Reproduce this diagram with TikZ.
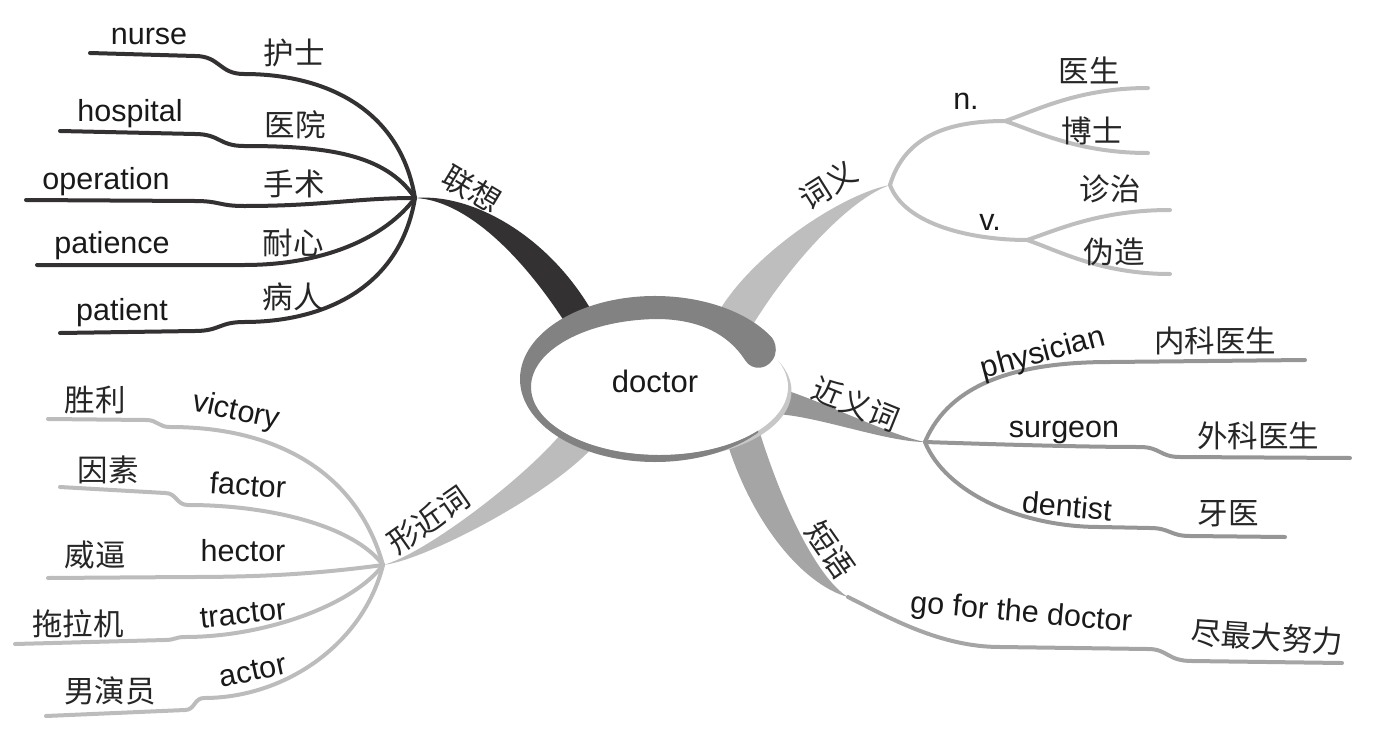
\documentclass[tikz,border=0pt]{standalone}
\usepackage{fontspec}
\setmainfont{Liberation Sans}
\newfontfamily\cjk{Noto Sans CJK SC}
\usetikzlibrary{calc}

\definecolor{assocgray}{RGB}{52,49,50}
\definecolor{meangray}{RGB}{190,190,190}
\definecolor{syngray}{RGB}{150,150,150}
\definecolor{phrasegray}{RGB}{165,165,165}
\definecolor{formgray}{RGB}{188,188,188}
\definecolor{ringgray}{RGB}{130,130,130}

\tikzset{
  en/.style={font=\fontsize{30.5}{34}\selectfont, text=black!90, inner sep=0pt},
  zh/.style={font=\cjk\fontsize{30.5}{34}\selectfont, text=black!85, inner sep=0pt},
  twig/.style={line width=4pt, line cap=round, line join=round},
}

\begin{document}
\begin{tikzpicture}[x=1pt,y=-1pt]
\useasboundingbox (0,0) rectangle (1393,731);

% hubs
\coordinate (assoc) at (415,198);
\coordinate (mean) at (890,185);
\coordinate (syn) at (925,442);
\coordinate (phr) at (848,597);
\coordinate (form) at (383,565);
\coordinate (noun) at (1005,121);
\coordinate (verb) at (1027,240);

% trunks
\fill[assocgray] (assoc) .. controls +(50,2) and +(-45,-70) .. (566,324) -- (590,308) .. controls +(-45,-75) and +(55,-5) .. (assoc) -- cycle;
\fill[meangray] (mean) .. controls +(-45,8) and +(35,-65) .. (715,318) -- (752,326) .. controls +(40,-65) and +(-40,14) .. (mean) -- cycle;
\fill[syngray] (syn) .. controls +(-40,-8) and +(45,12) .. (772,386) -- (772,414) .. controls +(40,0) and +(-40,0) .. (syn) -- cycle;
\fill[phrasegray] (phr) .. controls +(-45,-12) and +(25,95) .. (722,425) -- (756,420) .. controls +(25,85) and +(-30,-18) .. (phr) -- cycle;
\fill[formgray] (form) .. controls +(40,-10) and +(-40,50) .. (566,428) -- (594,446) .. controls +(-45,50) and +(40,-4) .. (form) -- cycle;

% centre
\fill[black!22] (663,391) ellipse [x radius=128.5, y radius=68];
\fill[white] (659.5,387) ellipse [x radius=128.5, y radius=68];
\fill[ringgray] (655,379) ++(-30:135 and 83) arc[start angle=-30, end angle=-320, x radius=135, y radius=83]
  -- ($(659.5,387)+(40:128.5 and 68)$) arc[start angle=40, end angle=270, x radius=128.5, y radius=68]
  .. controls (700,320) and (728,334) .. (745,360)
  .. controls (752,372) and (770,370) .. (775,355)
  .. controls (777,348) and (775,342) .. cycle;
\node[en, font=\fontsize{31}{34}\selectfont] (doc) at (655,381) {doctor};

% 联想
\coordinate (nurseE) at (90,53);
\coordinate (hospE) at (60,131);
\coordinate (operE) at (26,200);
\coordinate (patceE) at (37,265);
\coordinate (patE) at (60,333);
\draw[twig, assocgray] (assoc) .. controls +(-15,-90) and +(80,0) .. (244,74) .. controls +(-25,0) and +(25,0) .. (195,56) -- (nurseE);
\draw[twig, assocgray] (assoc) .. controls +(-30,-45) and +(80,0) .. (244,146) .. controls +(-25,0) and +(25,0) .. (195,134) -- (hospE);
\draw[twig, assocgray] (assoc) .. controls +(-60,0) and +(80,0) .. (244,206) .. controls +(-25,0) and +(25,0) .. (195,201) -- (operE);
\draw[twig, assocgray] (assoc) .. controls +(-30,40) and +(80,0) .. (244,265) -- (patceE);
\draw[twig, assocgray] (assoc) .. controls +(-15,90) and +(80,0) .. (244,322) .. controls +(-25,0) and +(25,0) .. (195,331) -- (patE);
\node[zh, rotate=-31] (lx) at (472,189) {联想};
\node[en] (nurse) at (149,36) {nurse};
\node[zh] (hushi) at (294,53) {护士};
\node[en] (hospital) at (130,114) {hospital};
\node[zh] (yiyuan) at (295,125) {医院};
\node[en] (operation) at (106,182) {operation};
\node[zh] (shoushu) at (294,184) {手术};
\node[en] (patience) at (112,246) {patience};
\node[zh] (naixin) at (293,243) {耐心};
\node[en] (patient) at (122,313) {patient};
\node[zh] (bingren) at (293,297) {病人};

% 词义
\coordinate (yishengE) at (1148,88);
\coordinate (boshiE) at (1148,153);
\coordinate (zhenzhiE) at (1170,210);
\coordinate (weizaoE) at (1170,274);
\draw[twig, meangray] (mean) .. controls +(15,-50) and +(-55,0) .. (noun);
\draw[twig, meangray] (mean) .. controls +(15,40) and +(-55,0) .. (verb);
\draw[twig, meangray] (noun) .. controls +(30,-10) and +(-70,0) .. (yishengE);
\draw[twig, meangray] (noun) .. controls +(30,10) and +(-70,0) .. (boshiE);
\draw[twig, meangray] (verb) .. controls +(30,-10) and +(-70,0) .. (zhenzhiE);
\draw[twig, meangray] (verb) .. controls +(30,10) and +(-70,0) .. (weizaoE);
\node[zh, rotate=32] (cy) at (828,185) {词义};
\node[en] (n) at (966,101) {n.};
\node[en] (v) at (990,222) {v.};
\node[zh] (yisheng) at (1089,70) {医生};
\node[zh] (boshi) at (1092,131) {博士};
\node[zh] (zhenzhi) at (1110,189) {诊治};
\node[zh] (weizao) at (1114,252) {伪造};

% 近义词
\coordinate (physE) at (1305,360);
\coordinate (surgE) at (1350,458);
\coordinate (dentE) at (1285,537);
\draw[twig, syngray] (syn) .. controls +(25,-60) and +(-90,0) .. (1110,362) -- (physE);
\draw[twig, syngray] (syn) .. controls +(60,2) and +(-60,0) .. (1140,447) .. controls +(20,0) and +(-20,0) .. (1180,457) -- (surgE);
\draw[twig, syngray] (syn) .. controls +(20,50) and +(-80,0) .. (1100,527) -- (1150,528) .. controls +(20,0) and +(-20,0) .. (1190,536) -- (dentE);
\node[zh, rotate=-22] (jyc) at (856,404) {近义词};
\node[en, rotate=15] (physician) at (1043,354) {physician};
\node[zh] (neike) at (1215,341) {内科医生};
\node[en] (surgeon) at (1064,432) {surgeon};
\node[zh] (waike) at (1258,436) {外科医生};
\node[en, rotate=-5] (dentist) at (1067,506) {dentist};
\node[zh] (yayi) at (1228,514) {牙医};

% 短语
\coordinate (phrE) at (1342,663);
\draw[twig, phrasegray] (phr) .. controls +(40,20) and +(-60,0) .. (1000,647) -- (1148,649) .. controls +(20,0) and +(-25,0) .. (1192,661) -- (phrE);
\node[zh, rotate=-55] (dy) at (830,550) {短语};
\node[en, rotate=-5] (gofor) at (1021,614) {go for the doctor};
\node[zh, rotate=-4] (jin) at (1267,637) {尽最大努力};

% 形近词
\coordinate (victE) at (48,419);
\coordinate (factE) at (60,487);
\coordinate (hectE) at (48,578);
\coordinate (tractE) at (15,644);
\coordinate (actE) at (46,716);
\draw[twig, formgray] (form) .. controls +(-25,-90) and +(110,0) .. (170,427) .. controls +(-12,0) and +(12,0) .. (146,420) -- (victE);
\draw[twig, formgray] (form) .. controls +(-30,-40) and +(80,0) .. (188,505) .. controls +(-12,0) and +(12,0) .. (165,493) -- (factE);
\draw[twig, formgray] (form) .. controls +(-60,8) and +(80,0) .. (190,577) -- (hectE);
\draw[twig, formgray] (form) .. controls +(-30,40) and +(80,0) .. (185,637) .. controls +(-10,0) and +(10,0) .. (165,640) -- (tractE);
\draw[twig, formgray] (form) .. controls +(-20,80) and +(80,0) .. (204,698) .. controls +(-10,0) and +(10,0) .. (185,710) -- (actE);
\node[zh, rotate=35] (xjc) at (428,520) {形近词};
\node[zh] (shengli) at (95,400) {胜利};
\node[en, rotate=-12] (victory) at (236,412) {victory};
\node[zh] (yinsu) at (108,470) {因素};
\node[en, rotate=-4] (factor) at (248,485) {factor};
\node[zh] (weibi) at (95,555) {威逼};
\node[en] (hector) at (243,551) {hector};
\node[zh] (tuolaji) at (78,624) {拖拉机};
\node[en, rotate=6] (tractor) at (243,614) {tractor};
\node[zh] (nanyanyuan) at (110,691) {男演员};
\node[en, rotate=12] (actor) at (253,671) {actor};
\end{tikzpicture}
\end{document}
